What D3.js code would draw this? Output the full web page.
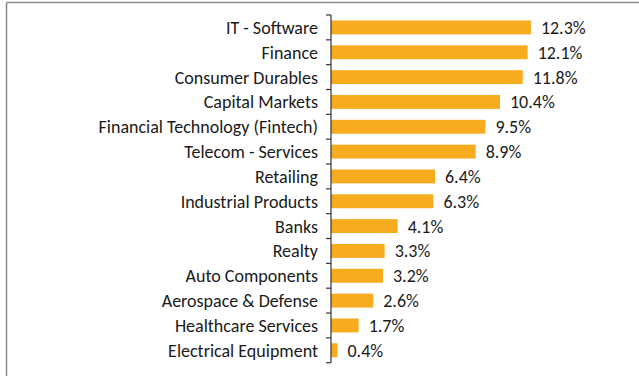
<!DOCTYPE html>
<html>
<head>
<meta charset="utf-8">
<script src="https://cdn.jsdelivr.net/npm/d3@7"></script>
<style>
  html, body { margin: 0; padding: 0; background: #fff; }
  svg { display: block; }
  text { font-family: Carlito, Calibri, Lato, "Open Sans", sans-serif; fill: #1a1a1a; }
</style>
</head>
<body>
<svg id="chart" width="639" height="376"></svg>
<script>
// Sector allocation (% of net assets)
const categories = [
  "IT - Software",
  "Finance",
  "Consumer Durables",
  "Capital Markets",
  "Financial Technology (Fintech)",
  "Telecom - Services",
  "Retailing",
  "Industrial Products",
  "Banks",
  "Realty",
  "Auto Components",
  "Aerospace & Defense",
  "Healthcare Services",
  "Electrical Equipment"
];
const values = [12.3, 12.1, 11.8, 10.4, 9.5, 8.9, 6.4, 6.3, 4.1, 3.3, 3.2, 2.6, 1.7, 0.4];

const W = 639, H = 376;
const margin = { left: 331, top: 15, bottom: 13.3 };
const svg = d3.select("#chart");

// Frame lines (top and left)
svg.append("line").attr("x1", 6.5).attr("y1", 2.5).attr("x2", W).attr("y2", 2.5)
  .attr("stroke", "#8a8a8a").attr("stroke-width", 1.5);
svg.append("line").attr("x1", 6.5).attr("y1", 2.5).attr("x2", 6.5).attr("y2", H)
  .attr("stroke", "#8a8a8a").attr("stroke-width", 1.5);

const x = d3.scaleLinear().domain([0, 14]).range([margin.left, margin.left + 14 * 16.25]);
const y = d3.scaleBand().domain(categories)
  .range([margin.top, H - margin.bottom]).paddingInner(0.44).paddingOuter(0.22);

const data = categories.map((c, i) => ({ c, v: values[i] }));

// Bars
svg.append("g").selectAll("rect").data(data).join("rect")
  .attr("x", x(0))
  .attr("y", d => y(d.c))
  .attr("width", d => x(d.v) - x(0))
  .attr("height", y.bandwidth())
  .attr("fill", "#f7ab1f");

// Category axis with ticks at band boundaries
const axisG = svg.append("g").attr("transform", `translate(${x(0)},0)`);
const y0 = margin.top, y1 = H - margin.bottom;
axisG.append("line").attr("x1", 0).attr("x2", 0).attr("y1", y0).attr("y2", y1)
  .attr("stroke", "#333").attr("stroke-width", 1.2);
const boundaries = d3.range(categories.length + 1).map(i => y0 + i * (y1 - y0) / categories.length);
axisG.selectAll("line.tick").data(boundaries).join("line").attr("class", "tick")
  .attr("x1", -5).attr("x2", 0).attr("y1", d => d).attr("y2", d => d)
  .attr("stroke", "#333").attr("stroke-width", 1.2);

// Category labels
svg.append("g").selectAll("text").data(data).join("text")
  .attr("x", x(0) - 13)
  .attr("y", d => y(d.c) + y.bandwidth() / 2)
  .attr("dy", "0.36em")
  .attr("text-anchor", "end")
  .attr("font-size", 18)
  .text(d => d.c);

// Value labels
svg.append("g").selectAll("text").data(data).join("text")
  .attr("x", d => x(d.v) + 10)
  .attr("y", d => y(d.c) + y.bandwidth() / 2)
  .attr("dy", "0.36em")
  .attr("font-size", 18)
  .text(d => d.v.toFixed(1) + "%");
</script>
</body>
</html>
